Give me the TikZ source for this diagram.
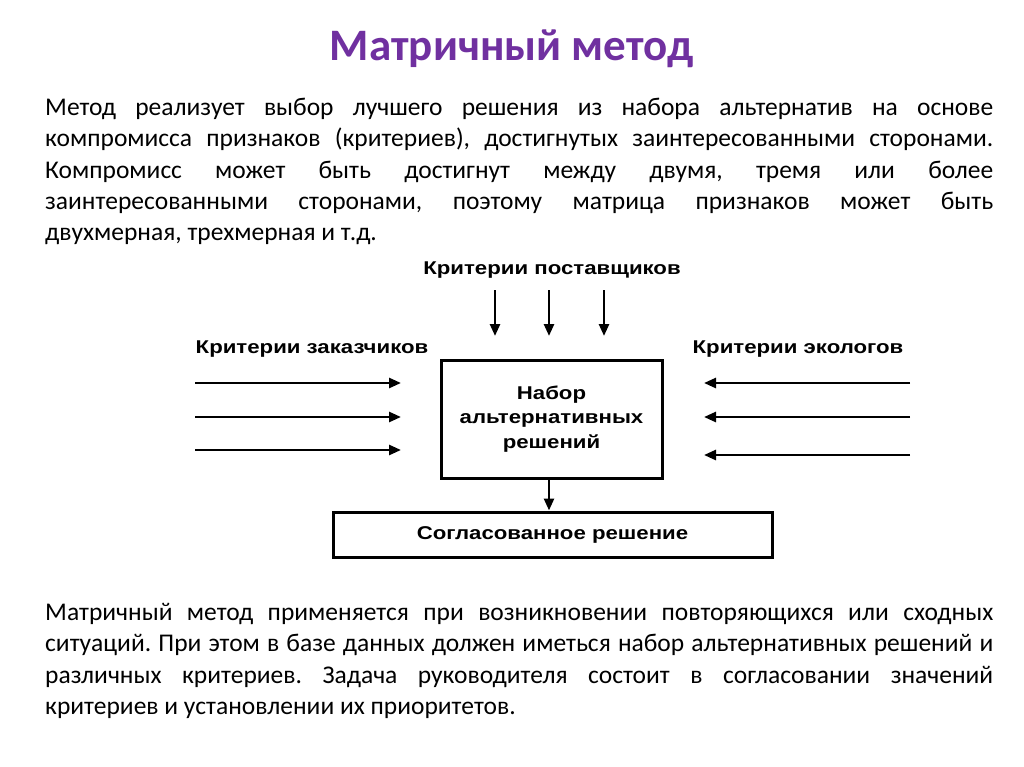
\documentclass[tikz,border=0pt]{standalone}
\usepackage{fontspec}
\setmainfont{Carlito}
\newfontfamily\diag[FakeStretch=1.2]{Liberation Sans}
\usetikzlibrary{arrows.meta}
\definecolor{ttl}{HTML}{7030A0}
\frenchspacing
\begin{document}
\begin{tikzpicture}[x=1pt,y=-1pt,
  para/.style={anchor=north west,text width=948pt,align=justify,inner sep=0,font=\fontsize{25.5}{31.3}\selectfont\frenchspacing},
  dfont/.style={font=\diag\bfseries\fontsize{18.5}{24}\selectfont},
  lbl/.style={dfont},
  arr/.style={line width=2.6pt,-{Triangle[length=12pt,width=10pt]}},
  box/.style={draw,line width=3pt,dfont}]
\useasboundingbox (0,0) rectangle (1024,767);
\node[font=\bfseries\fontsize{45}{50}\selectfont,text=ttl] (title) at (512,49) {Матричный метод};
\node[para] (p1) at (45,98) {Метод реализует выбор лучшего решения из набора альтернатив на основе\linebreak компромисса признаков (критериев), достигнутых заинтересованными сторонами.\linebreak Компромисс может быть достигнут между двумя, тремя или более\linebreak заинтересованными сторонами, поэтому матрица признаков может быть\linebreak двухмерная, трехмерная и т.д.};
\node[lbl] (top) at (552,270) {Критерии поставщиков};
\node[lbl] (left) at (312,349) {Критерии заказчиков};
\node[lbl] (right) at (798,349) {Критерии экологов};
\node[box,minimum width=221pt,minimum height=118pt,align=center,font=\diag\bfseries\fontsize{18.5}{24.5}\selectfont] (set) at (551.5,419) {Набор\\альтернативных\\решений};
\node[box,minimum width=439pt,minimum height=45pt] (res) at (552.5,534.5) {Согласованное решение};
\foreach \x/\n in {495/a,549/b,604/c}{
  \coordinate (t\n) at (\x,290); \coordinate (h\n) at (\x,336);
  \draw[arr] (t\n) -- (h\n);}
\foreach \y/\n in {383/a,417/b,450/c}{
  \coordinate (ls\n) at (195,\y); \coordinate (le\n) at (401,\y);
  \draw[arr] (ls\n) -- (le\n);}
\foreach \y/\n in {383/a,417/b,455/c}{
  \coordinate (rs\n) at (910,\y); \coordinate (re\n) at (704,\y);
  \draw[arr] (rs\n) -- (re\n);}
\draw[arr] (set.south -| 549,0) -- (res.north -| 549,0);
\node[para] (p2) at (45,603) {Матричный метод применяется при возникновении повторяющихся или сходных\linebreak ситуаций. При этом в базе данных должен иметься набор альтернативных решений и\linebreak различных критериев. Задача руководителя состоит в согласовании значений\linebreak критериев и установлении их приоритетов.};
\end{tikzpicture}
\end{document}
